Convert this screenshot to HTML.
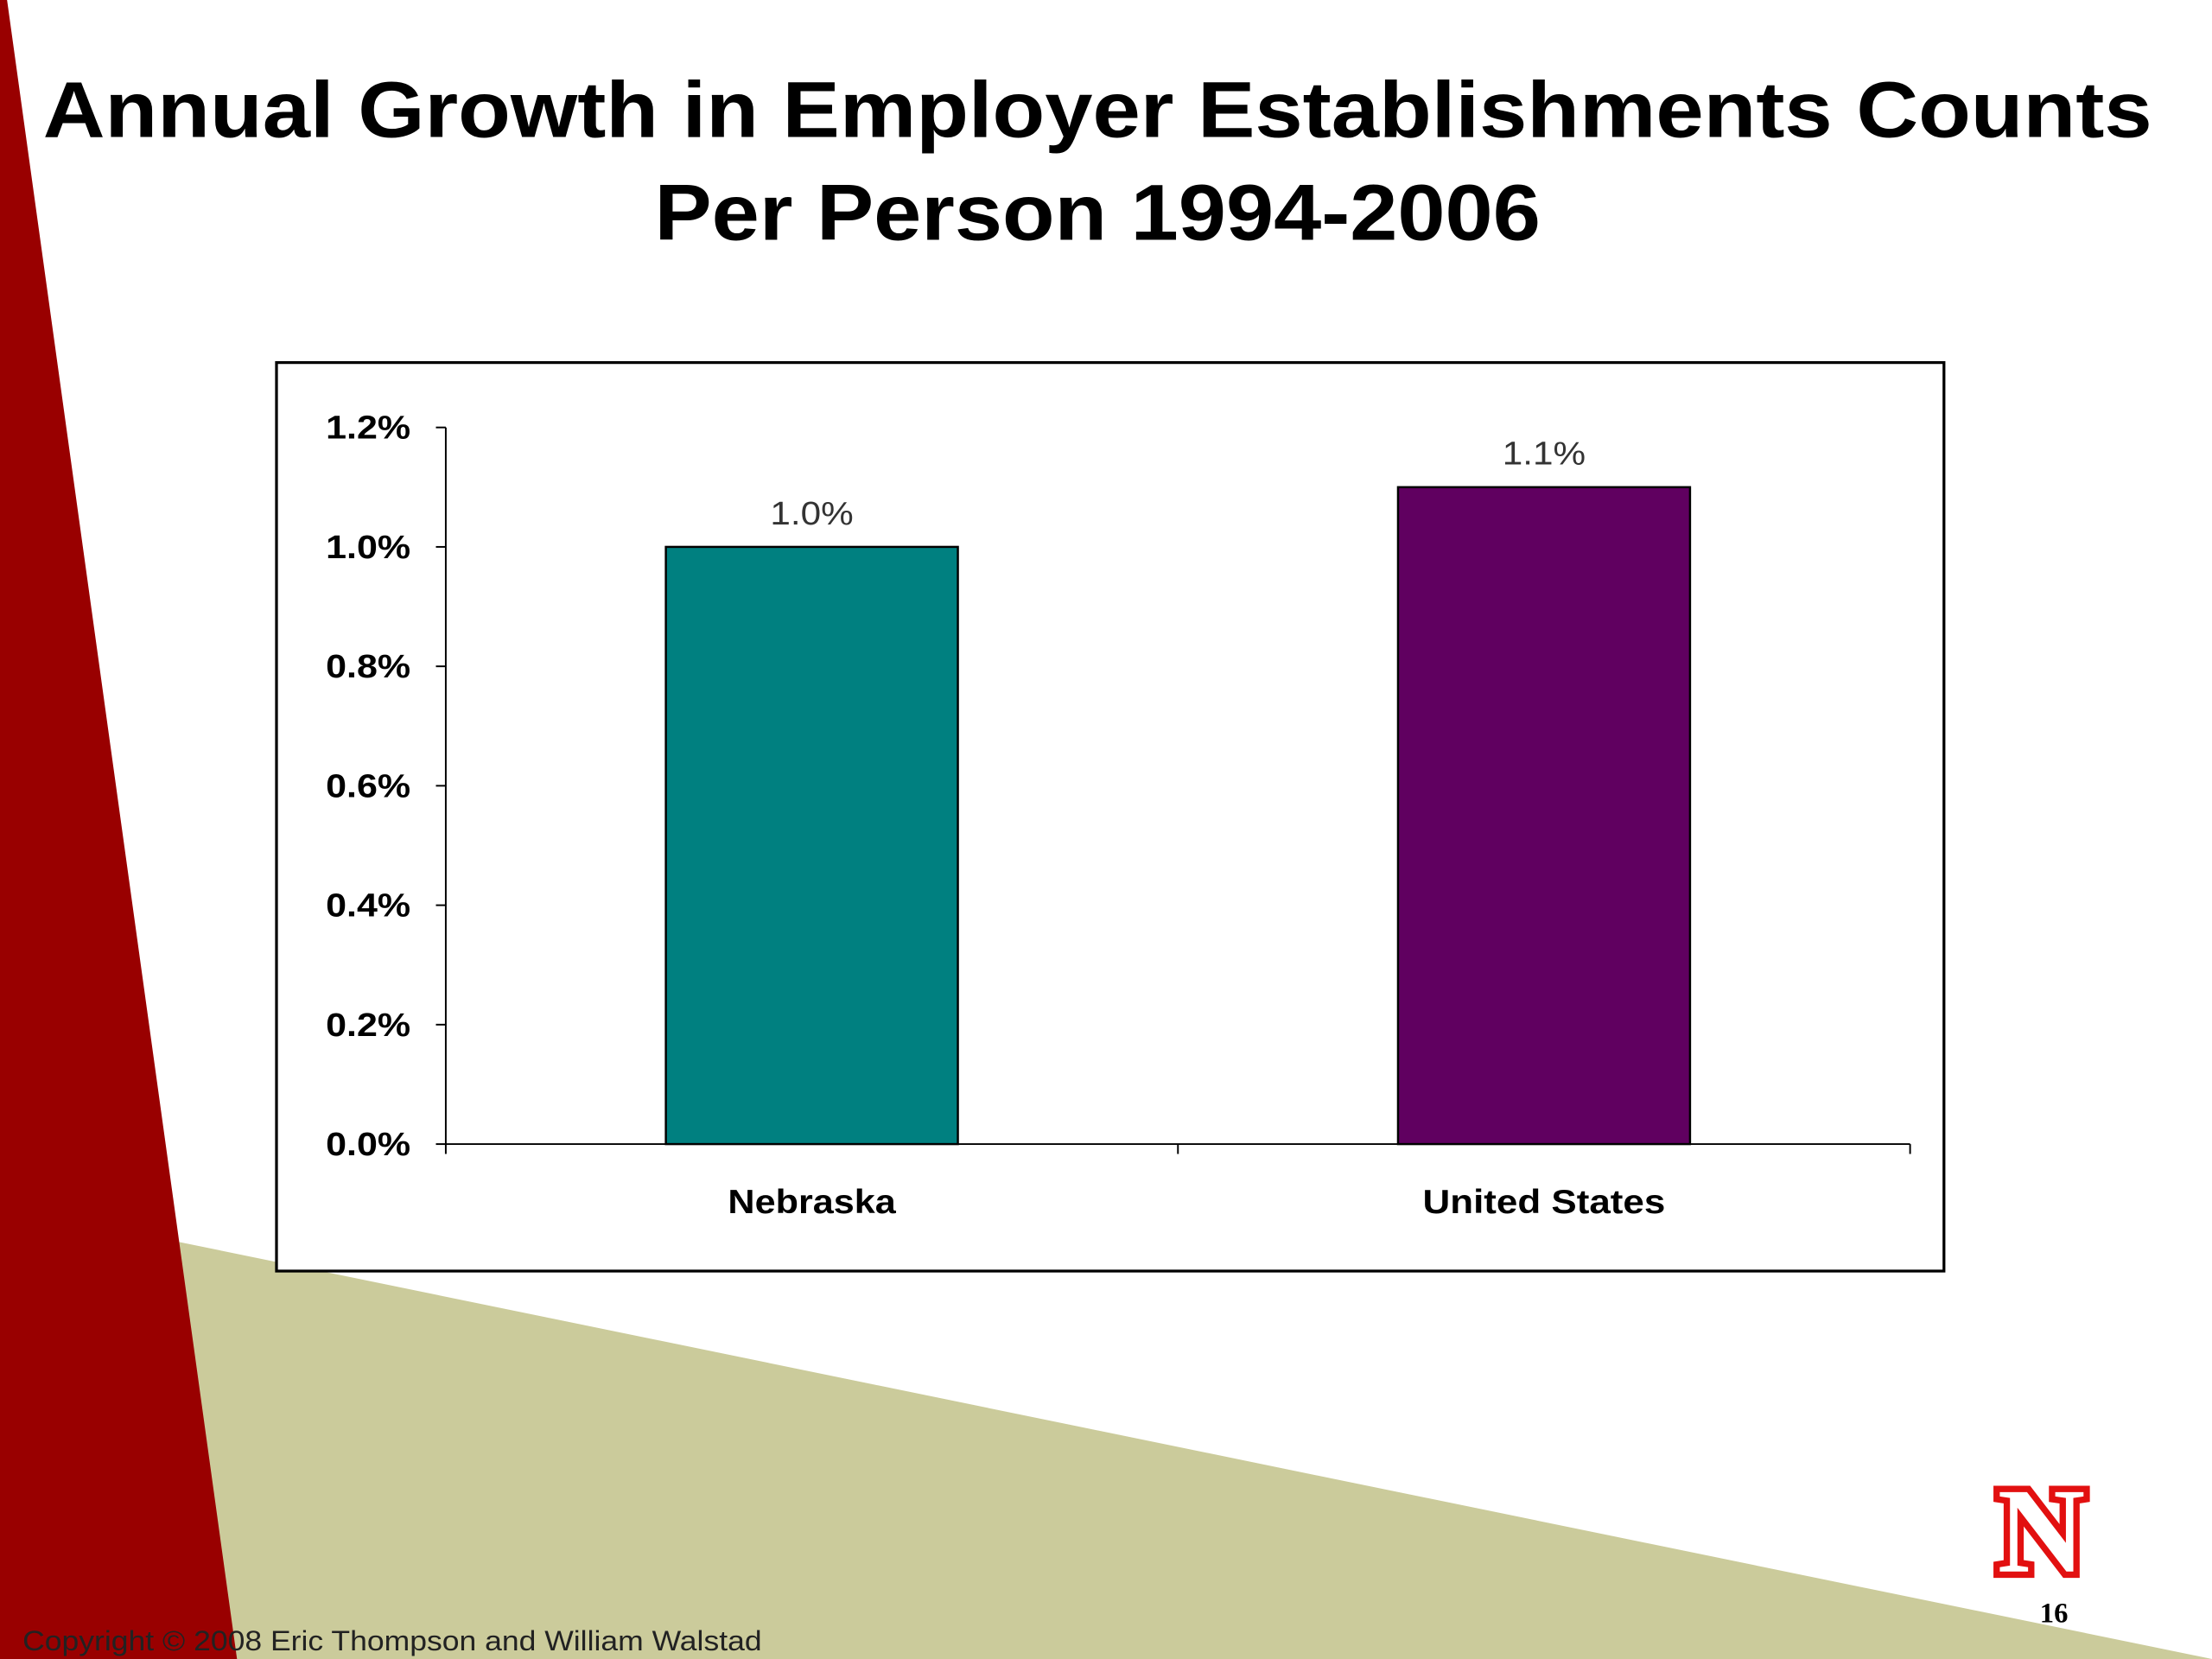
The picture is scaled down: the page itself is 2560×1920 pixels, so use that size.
<!DOCTYPE html>
<html><head><meta charset="utf-8"><style>
html,body{margin:0;padding:0;background:#fff;}
svg{display:block;}
</style></head><body>
<svg id="slide" width="2560" height="1920" viewBox="0 0 1568 1176" xmlns="http://www.w3.org/2000/svg" font-family="'Liberation Sans', Arial, sans-serif">
<rect width="1568" height="1176" fill="#fff"/>
<polygon points="125,880 1568,1176 125,1176" fill="#cbcb9b"/>
<polygon points="0,0 5,0 168,1176 0,1176" fill="#990000"/>
<g font-weight="bold" font-size="56" text-anchor="middle" fill="#000">
<text x="778" y="97" textLength="1495" lengthAdjust="spacingAndGlyphs">Annual Growth in Employer Establishments Counts</text>
<text x="778" y="170" textLength="628" lengthAdjust="spacingAndGlyphs">Per Person 1994-2006</text>
</g>
<rect x="196" y="257" width="1182" height="644" fill="#fff" stroke="#000" stroke-width="2"/>
<g id="chart"></g>
<text x="16" y="1170" font-size="20" fill="#222" textLength="524" lengthAdjust="spacingAndGlyphs">Copyright © 2008 Eric Thompson and William Walstad</text>
<g>
<text x="1447" y="1114" font-family="'Liberation Serif', serif" font-weight="bold" font-size="86" text-anchor="middle" fill="#fff" stroke="#e21010" stroke-width="9" paint-order="stroke">N</text>
</g>
<text x="1456" y="1150" font-family="'Liberation Serif', serif" font-weight="bold" font-size="20" text-anchor="middle" fill="#000">16</text>
</svg>
<script>
const categories = ["Nebraska", "United States"];
const values = [1.0, 1.1];
const valueLabels = ["1.0%", "1.1%"];
const barColors = ["#008080", "#600060"];
const yTicks = [0, 0.2, 0.4, 0.6, 0.8, 1.0, 1.2];
const yTickLabels = ["0.0%", "0.2%", "0.4%", "0.6%", "0.8%", "1.0%", "1.2%"];

const NS = "http://www.w3.org/2000/svg";
const g = document.getElementById("chart");
const x0 = 316, x1 = 1354, yBase = 811, yTop = 303, yMax = 1.2;
const yScale = v => yBase - (v / yMax) * (yBase - yTop);
const band = (x1 - x0) / categories.length;
const xCenter = i => x0 + band * (i + 0.5);
const barW = 207;
function mk(tag, attrs, text) {
  const e = document.createElementNS(NS, tag);
  for (const k in attrs) e.setAttribute(k, attrs[k]);
  if (text !== undefined) e.textContent = text;
  g.appendChild(e);
  return e;
}
let e = mk("line", {x1: x0, y1: yTop, x2: x0, y2: yBase, stroke: "#000", "stroke-width": 1.2});


e = mk("line", {x1: x0, y1: yBase, x2: x1, y2: yBase, stroke: "#000", "stroke-width": 1.2});


yTicks.forEach((t, i) => {
  const y = yScale(t);
  const tk = mk("line", {x1: x0 - 7, y1: y, x2: x0, y2: y, stroke: "#000", "stroke-width": 1.2});
  
  
  const lb = mk("text", {x: 291, y: y + 8, "text-anchor": "end", "font-size": 23, "font-weight": "bold", fill: "#000", textLength: 60, lengthAdjust: "spacingAndGlyphs"}, yTickLabels[i]);
  
  
});
for (let i = 0; i <= categories.length; i++) {
  const x = x0 + band * i;
  const tk = mk("line", {x1: x, y1: yBase, x2: x, y2: yBase + 7, stroke: "#000", "stroke-width": 1.2});
  
  
}
const catWidths = [119, 172];
categories.forEach((c, i) => {
  const cx = xCenter(i), yv = yScale(values[i]);
  const b = mk("rect", {x: cx - barW / 2, y: yv, width: barW, height: yBase - yv, fill: barColors[i], stroke: "#000", "stroke-width": 1.5});
  
  
  const vl = mk("text", {x: cx, y: yv - 16, "text-anchor": "middle", "font-size": 23, fill: "#333", textLength: 59, lengthAdjust: "spacingAndGlyphs"}, valueLabels[i]);
  
  
  const cl = mk("text", {x: cx, y: 860, "text-anchor": "middle", "font-size": 24, "font-weight": "bold", fill: "#000", textLength: catWidths[i], lengthAdjust: "spacingAndGlyphs"}, c);
  
  
});
</script>
</body></html>
